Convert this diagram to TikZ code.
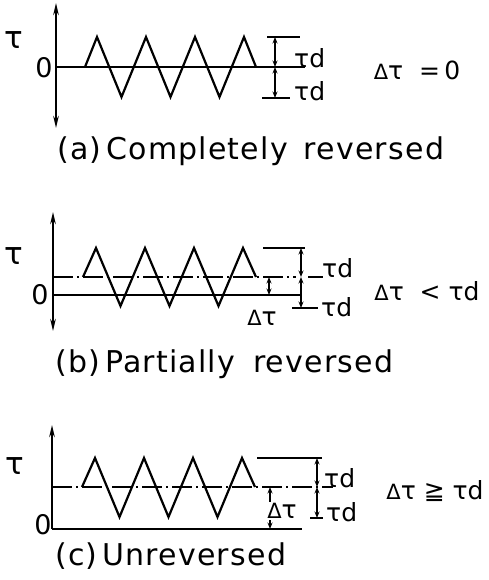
\documentclass[tikz,border=0pt]{standalone}
\usepackage{fontspec}
\setmainfont{DejaVu Sans}
\newfontfamily\capfont[LetterSpace=4]{DejaVu Sans}
\usetikzlibrary{arrows.meta}
\newcommand{\sDelta}{{\fontsize{21}{21}\selectfont Δ}}
\begin{document}
\begin{tikzpicture}[x=1pt,y=-1pt,
  axisline/.style={line width=2.6pt},
  axarrow/.style={-{Stealth[length=12pt,width=5.5pt]}},
  axarrows/.style={{Stealth[length=12pt,width=5.5pt]}-{Stealth[length=12pt,width=5.5pt]}},
  wave/.style={line width=2.2pt, line join=miter},
  dimline/.style={line width=2pt, {Stealth[length=6.5pt,width=5pt]}-{Stealth[length=6.5pt,width=5pt]}},
  thinline/.style={line width=2.2pt},
  meanline/.style={line width=2.2pt, dash pattern=on 20pt off 4pt on 2pt off 4pt},
  biglbl/.style={font=\fontsize{31}{31}\selectfont, inner sep=0pt},
  zlbl/.style={font=\fontsize{27}{27}\selectfont, inner sep=0pt},
  lbl/.style={font=\fontsize{25}{25}\selectfont, inner sep=0pt},
  caplbl/.style={font=\capfont\fontsize{30}{30}\selectfont, anchor=west, inner sep=0pt}]
\useasboundingbox (0,0) rectangle (489,580);

% ---------------- (a) ----------------
\coordinate (aTop) at (56,3);
\coordinate (aBot) at (56,128);
\coordinate (aZ0) at (56,67);
\coordinate (aZ1) at (305,67);
\draw[axisline,axarrows] (aBot) -- (aTop);
\draw[axisline] (aZ0) -- (aZ1);
\draw[wave] (85,67) -- (97,37) -- (121.5,97) -- (146,37) -- (170.5,97) -- (195,37) -- (219.5,97) -- (244,37) -- (256,67);
\coordinate (aT1) at (267,37); \coordinate (aT2) at (300,37);
\coordinate (aB1) at (262,98); \coordinate (aB2) at (290,98);
\draw[thinline] (aT1) -- (aT2);
\draw[thinline] (aB1) -- (aB2);
\coordinate (aDt) at (275,37); \coordinate (aDm) at (275,67); \coordinate (aDb) at (275,98);
\draw[dimline] (aDm) -- (aDt);
\draw[dimline] (aDm) -- (aDb);
\node[biglbl] (tauA) at (14,40) {τ};
\node[zlbl] (zeroA) at (44,68) {0};
\node[lbl,anchor=west] (tdA1) at (294,58) {τd};
\node[lbl,anchor=west] (tdA2) at (294,91) {τd};
\node[lbl] (condA) at (417,70) {\sDelta τ\ \ =\,0};
\node[caplbl] (capA) at (57,151) {(a)\,Completely\hspace{16pt}reversed};

% ---------------- (b) ----------------
\coordinate (bTop) at (53,212);
\coordinate (bBot) at (53,331);
\coordinate (bZ0) at (53,295);
\coordinate (bZ1) at (302,295);
\coordinate (bM0) at (53,277);
\coordinate (bM1) at (296,277);
\draw[axisline,axarrows] (bBot) -- (bTop);
\draw[axisline] (bZ0) -- (bZ1);
\draw[meanline] (bM0) -- (bM1);
\coordinate (bL1) at (308,277); \coordinate (bL2) at (323,277);
\draw[thinline] (bL1) -- (bL2);
\draw[wave] (83,277) -- (96,248) -- (120.5,306) -- (145,248) -- (169.5,306) -- (194,248) -- (218.5,306) -- (243,248) -- (256,277);
\coordinate (bT1) at (263,248); \coordinate (bT2) at (305,248);
\draw[thinline] (bT1) -- (bT2);
\coordinate (bB1) at (292,308); \coordinate (bB2) at (318,308);
\draw[thinline] (bB1) -- (bB2);
\coordinate (bDt) at (301,248); \coordinate (bDm) at (301,277); \coordinate (bDb) at (301,308);
\draw[dimline] (bDm) -- (bDt);
\draw[dimline] (bDm) -- (bDb);
\coordinate (bSt) at (269,277); \coordinate (bSb) at (269,295);
\draw[dimline] (bSt) -- (bSb);
\node[biglbl] (tauB) at (14,256) {τ};
\node[zlbl] (zeroB) at (40,295) {0};
\node[lbl,anchor=west] (tdB1) at (322,268) {τd};
\node[lbl,anchor=west] (tdB2) at (321,307) {τd};
\node[lbl] (dtB) at (262,318) {\sDelta τ};
\node[lbl] (condB) at (427,291) {\sDelta τ\ \ <\ τd};
\node[caplbl] (capB) at (55,364) {(b)\,Partially\hspace{18pt}reversed};

% ---------------- (c) ----------------
\coordinate (cTop) at (52,425);
\coordinate (cZ0) at (52,529);
\coordinate (cZ1) at (302,529);
\coordinate (cM0) at (52,487);
\coordinate (cM1) at (333,487);
\draw[axisline,axarrow] (cZ0) -- (cTop);
\draw[axisline] (cZ0) -- (cZ1);
\draw[meanline] (cM0) -- (cM1);
\draw[wave] (82,487) -- (95,458) -- (119.5,517) -- (144,458) -- (168.5,517) -- (193,458) -- (217.5,517) -- (242,458) -- (255,487);
\coordinate (cT1) at (257,458); \coordinate (cT2) at (322,458);
\draw[thinline] (cT1) -- (cT2);
\coordinate (cB1) at (310,518); \coordinate (cB2) at (323,518);
\draw[thinline] (cB1) -- (cB2);
\coordinate (cDt) at (317,458); \coordinate (cDm) at (317,487); \coordinate (cDb) at (317,518);
\draw[dimline] (cDm) -- (cDt);
\draw[dimline] (cDm) -- (cDb);
\coordinate (cSt) at (270,487); \coordinate (cSb) at (270,529);
\draw[dimline] (cSt) -- (cSb);
\node[biglbl] (tauC) at (15,466) {τ};
\node[zlbl] (zeroC) at (43,525) {0};
\node[lbl,anchor=west] (tdC1) at (324,478) {τd};
\node[lbl,anchor=west] (tdC2) at (326,512) {τd};
\node[lbl,fill=white,inner sep=1pt] (dtC) at (282,511) {\sDelta τ};
\node[lbl] (condC) at (435,491) {\sDelta τ\ ≧\ τd};
\node[caplbl] (capC) at (55,556) {(c)\,Unreversed};
\end{tikzpicture}
\end{document}
